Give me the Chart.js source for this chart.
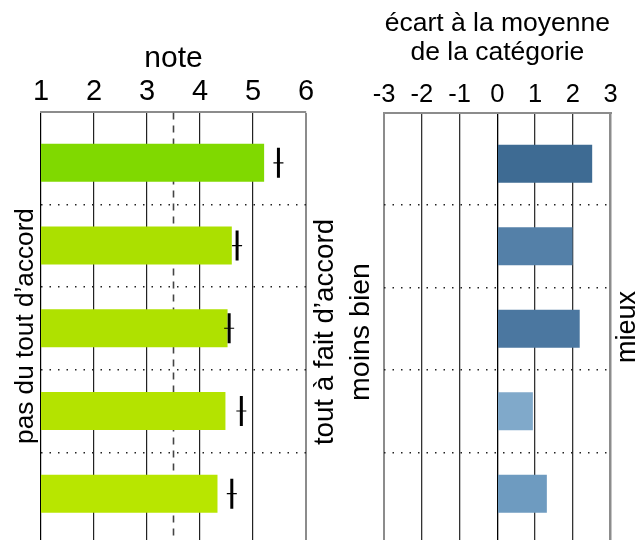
<!DOCTYPE html>
<html>
<head>
<meta charset="utf-8">
<script src="https://cdn.jsdelivr.net/npm/chart.js@4.4.1/dist/chart.umd.min.js"></script>
<style>
  body { margin: 0; background: #fff; }
  #cadre { position: relative; width: 638px; height: 540px; }
  canvas { position: absolute; top: 0; }
  #note { left: 0; }
  #ecart { left: 345px; }
</style>
</head>
<body>
<div id="cadre">
  <canvas id="note" width="345" height="540"></canvas>
  <canvas id="ecart" width="293" height="540"></canvas>
</div>
<script>
// données
const lignes = [0, 1, 2, 3, 4];
const notes = [5.21, 4.6, 4.52, 4.48, 4.33];
const marqueurs = [5.48, 4.7, 4.55, 4.78, 4.6];
const ecarts = [2.51, 1.99, 2.18, 0.94, 1.31];
const ticksNote = [1, 2, 3, 4, 5, 6];
const ticksEcart = [-3, -2, -1, 0, 1, 2, 3];
const separateurs = [0.5, 1.5, 2.5, 3.5];
const moyenne = 3.5;
const couleursNote = ["#80d900", "#abe000", "#afe100", "#b4e300", "#b8e600"];
const couleursEcart = ["#3e6b93", "#5480a8", "#4b77a0", "#80a9ca", "#6e9bc0"];

// bornes de l'axe vertical (le bas est coupé)
const yHaut = -0.61;
const yBas = 4.56;

const police = '"Liberation Sans", Arial, Helvetica, sans-serif';
Chart.defaults.font.family = police;
Chart.defaults.color = "#000";

// textes verticaux sur les côtés
const textesCotes = (textes) => ({
  id: "cotes",
  afterDraw(chart) {
    const ctx = chart.ctx;
    textes.forEach((t) => {
      ctx.save();
      ctx.font = `${t.taille}px ${police}`;
      ctx.fillStyle = "#000";
      ctx.textAlign = "center";
      ctx.textBaseline = "alphabetic";
      ctx.translate(t.x, t.y);
      ctx.rotate(-Math.PI / 2);
      ctx.fillText(t.texte, 0, 0);
      ctx.restore();
    });
  },
});

const axeY = () => ({
  type: "linear",
  reverse: true,
  offset: false,
  min: yHaut,
  max: yBas,
  afterBuildTicks: (s) => {
    s.ticks = separateurs.map((v) => ({ value: v }));
  },
  ticks: { display: false },
  border: { display: false, dash: [1.5, 7] },
  grid: {
    offset: false,
    drawTicks: false,
    color: "#222",
    lineWidth: 1.4,
  },
});

const points = (vals) => vals.map((v, i) => ({ x: v, y: lignes[i] }));

// panneau de gauche : note
new Chart(document.getElementById("note"), {
  type: "bar",
  data: {
    datasets: [
      {
        data: points(notes),
        backgroundColor: couleursNote,
        barPercentage: 0.46,
        categoryPercentage: 1,
        order: 2,
      },
      {
        type: "line",
        data: [
          { x: moyenne, y: yHaut },
          { x: moyenne, y: yBas },
        ],
        borderColor: "#444",
        borderWidth: 1.6,
        borderDash: [7, 6],
        pointRadius: 0,
        order: 3,
      },
      {
        type: "scatter",
        data: points(marqueurs),
        pointStyle: "line",
        rotation: 90,
        radius: 15,
        borderWidth: 3,
        borderColor: "#000",
        order: 1,
      },
      {
        type: "scatter",
        data: points(marqueurs),
        pointStyle: "line",
        radius: 5,
        borderWidth: 1.2,
        borderColor: "#000",
        order: 0,
      },
    ],
  },
  options: {
    indexAxis: "y",
    responsive: false,
    animation: false,
    events: [],
    layout: { autoPadding: false, padding: { top: 45.4, left: 41, right: 39, bottom: 0 } },
    plugins: { legend: { display: false }, tooltip: { enabled: false } },
    scales: {
      x: {
        type: "linear",
        position: "top",
        min: 1,
        max: 6,
        afterBuildTicks: (s) => {
          s.ticks = ticksNote.map((v) => ({ value: v }));
        },
        ticks: { font: { size: 29 }, padding: 2.6, color: "#000" },
        title: {
          display: true,
          text: "note",
          font: { size: 30, lineHeight: 0.9 },
          padding: { top: 0, bottom: 0 },
          color: "#000",
        },
        border: { display: true, color: "#8c8c8c", width: 2 },
        grid: {
          drawTicks: false,
          color: (c) => (c.tick.value === 6 ? "#8c8c8c" : c.tick.value === 1 ? "#000" : "#222"),
          lineWidth: (c) => (c.tick.value === 6 ? 2 : 1.2),
        },
      },
      y: axeY(),
    },
  },
  plugins: [
    textesCotes([
      { texte: "pas du tout d’accord", x: 33, y: 326, taille: 26.2 },
      { texte: "tout à fait d’accord", x: 333, y: 332, taille: 27.7 },
    ]),
  ],
});

// panneau de droite : écart à la moyenne
new Chart(document.getElementById("ecart"), {
  type: "bar",
  data: {
    datasets: [
      {
        data: points(ecarts),
        backgroundColor: couleursEcart,
        barPercentage: 0.46,
        categoryPercentage: 1,
      },
    ],
  },
  options: {
    indexAxis: "y",
    responsive: false,
    animation: false,
    events: [],
    layout: { autoPadding: false, padding: { top: 9.9, left: 39, right: 27.3, bottom: 0 } },
    plugins: { legend: { display: false }, tooltip: { enabled: false } },
    scales: {
      x: {
        type: "linear",
        position: "top",
        min: -3,
        max: 3,
        afterBuildTicks: (s) => {
          s.ticks = ticksEcart.map((v) => ({ value: v }));
        },
        ticks: { font: { size: 25.5 }, padding: 3.5, color: "#000" },
        title: {
          display: true,
          text: ["écart à la moyenne", "de la catégorie"],
          font: { size: 26.5, lineHeight: 1.07 },
          padding: { top: 0, bottom: 9.2 },
          color: "#000",
        },
        border: { display: true, color: "#8c8c8c", width: 2 },
        grid: {
          drawTicks: false,
          color: (c) =>
            c.tick.value === 0 ? "#000" : Math.abs(c.tick.value) === 3 ? "#8c8c8c" : "#333",
          lineWidth: (c) => (c.tick.value === 3 ? 2.5 : Math.abs(c.tick.value) === 3 ? 2 : 1.3),
        },
      },
      y: axeY(),
    },
  },
  plugins: [
    textesCotes([
      { texte: "moins bien", x: 24, y: 332, taille: 28.5 },
      { texte: "mieux", x: 290, y: 327, taille: 27 },
    ]),
  ],
});
</script>
</body>
</html>
